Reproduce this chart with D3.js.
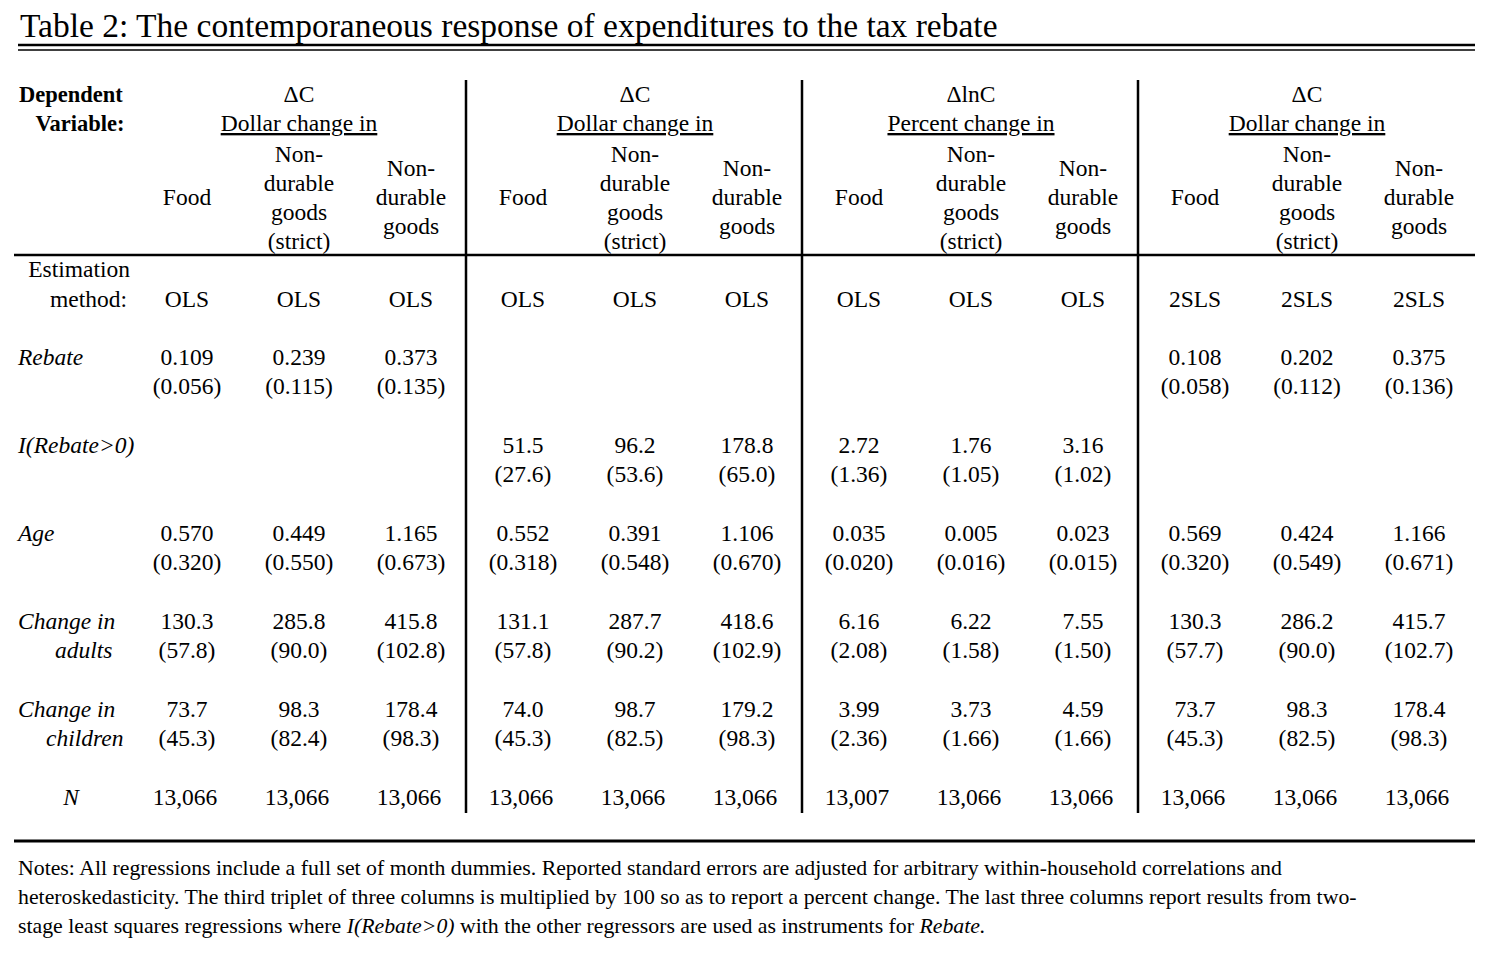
<!DOCTYPE html>
<html><head><meta charset="utf-8">
<script src="https://cdn.jsdelivr.net/npm/d3@7"></script>
<style>body{margin:0;background:#fff}svg text{font-family:"Liberation Serif","Times New Roman",serif;fill:#000}</style>
</head><body><svg id="c" width="1502" height="976"></svg>
<script>
const title = "Table 2: The contemporaneous response of expenditures to the tax rebate";
const groupHeads = ["ΔC","ΔC","ΔlnC","ΔC"];
const groupSubs = ["Dollar change in","Dollar change in","Percent change in","Dollar change in"];
const methods = ["OLS","OLS","OLS","OLS","OLS","OLS","OLS","OLS","OLS","2SLS","2SLS","2SLS"];
const rowLabels = [["Rebate"],["I(Rebate>0)"],["Age"],["Change in","adults"],["Change in","children"]];
const coefRebate = ["0.109","0.239","0.373","","","","","","","0.108","0.202","0.375"];
const seRebate   = ["(0.056)","(0.115)","(0.135)","","","","","","","(0.058)","(0.112)","(0.136)"];
const coefI = ["","","","51.5","96.2","178.8","2.72","1.76","3.16","","",""];
const seI   = ["","","","(27.6)","(53.6)","(65.0)","(1.36)","(1.05)","(1.02)","","",""];
const coefAge = ["0.570","0.449","1.165","0.552","0.391","1.106","0.035","0.005","0.023","0.569","0.424","1.166"];
const seAge   = ["(0.320)","(0.550)","(0.673)","(0.318)","(0.548)","(0.670)","(0.020)","(0.016)","(0.015)","(0.320)","(0.549)","(0.671)"];
const coefAdults = ["130.3","285.8","415.8","131.1","287.7","418.6","6.16","6.22","7.55","130.3","286.2","415.7"];
const seAdults   = ["(57.8)","(90.0)","(102.8)","(57.8)","(90.2)","(102.9)","(2.08)","(1.58)","(1.50)","(57.7)","(90.0)","(102.7)"];
const coefChildren = ["73.7","98.3","178.4","74.0","98.7","179.2","3.99","3.73","4.59","73.7","98.3","178.4"];
const seChildren   = ["(45.3)","(82.4)","(98.3)","(45.3)","(82.5)","(98.3)","(2.36)","(1.66)","(1.66)","(45.3)","(82.5)","(98.3)"];
const nObs = ["13,066","13,066","13,066","13,066","13,066","13,066","13,007","13,066","13,066","13,066","13,066","13,066"];
const notes = ["Notes: All regressions include a full set of month dummies. Reported standard errors are adjusted for arbitrary within-household correlations and",
"heteroskedasticity. The third triplet of three columns is multiplied by 100 so as to report a percent change. The last three columns report results from two-",
"stage least squares regressions where |I(Rebate>0)| with the other regressors are used as instruments for |Rebate.|"];

const svg = d3.select("#c");
const cols = d3.range(12);
const x = d3.scaleLinear().domain([0,11]).range([187,1419]);
const fs = 23.5;
function t(xp,yp,s,opt={}){
  const e = svg.append("text").attr("x",xp).attr("y",yp).attr("font-size",opt.size||fs)
    .attr("text-anchor",opt.anchor||"middle").text(s);
  if(opt.bold) e.attr("font-weight","bold");
  if(opt.italic) e.attr("font-style","italic");
  if(opt.underline) e.attr("text-decoration","underline");
  return e;
}
function line(x1,y1,x2,y2,w){svg.append("line").attr("x1",x1).attr("y1",y1).attr("x2",x2).attr("y2",y2).attr("stroke","#000").attr("stroke-width",w);}

t(20,37,title,{anchor:"start",size:33.5});
line(18,45,1475,45,2.5); line(18,50,1475,50,1.5);
t(71,102,"Dependent",{bold:true,size:22.5}); t(80,131,"Variable:",{bold:true,size:22.5});

groupHeads.forEach((g,i)=>{
  const cx = x(i*3+1);
  t(cx,102,g); t(cx,131,groupSubs[i],{underline:true});
  t(x(i*3),205,"Food");
  ["Non-","durable","goods","(strict)"].forEach((s,k)=>t(cx,162+k*29,s));
  ["Non-","durable","goods"].forEach((s,k)=>t(x(i*3+2),176+k*29,s));
});
[466,802,1138].forEach(v=>line(v,80,v,813,2.5));
line(14,255,1475,255,2.5);

t(130,277,"Estimation",{anchor:"end"}); t(127,307,"method:",{anchor:"end"});
cols.forEach(i=>t(x(i),307,methods[i]));

const rowsData=[[coefRebate,seRebate],[coefI,seI],[coefAge,seAge],[coefAdults,seAdults],[coefChildren,seChildren]];
const rowY = d3.scaleLinear().domain([0,4]).range([365,717]);
rowsData.forEach((r,ri)=>{
  const y0 = rowY(ri);
  const lab = rowLabels[ri];
  t(18,y0,lab[0],{anchor:"start",italic:true});
  if(lab[1]) t(ri==3?55:46,y0+29,lab[1],{anchor:"start",italic:true});
  cols.forEach(i=>{t(x(i),y0,r[0][i]); t(x(i),y0+29,r[1][i]);});
});
t(71,805,"N",{italic:true});
cols.forEach(i=>t(x(i)-2,805,nObs[i]));
line(14,841,1475,841,3);

notes.forEach((n,k)=>{
  const e = svg.append("text").attr("x",18).attr("y",875+k*29).attr("font-size",21.8);
  n.split("|").forEach((p,j)=>e.append("tspan").attr("font-style",j%2?"italic":"normal").text(p));
});
</script></body></html>
